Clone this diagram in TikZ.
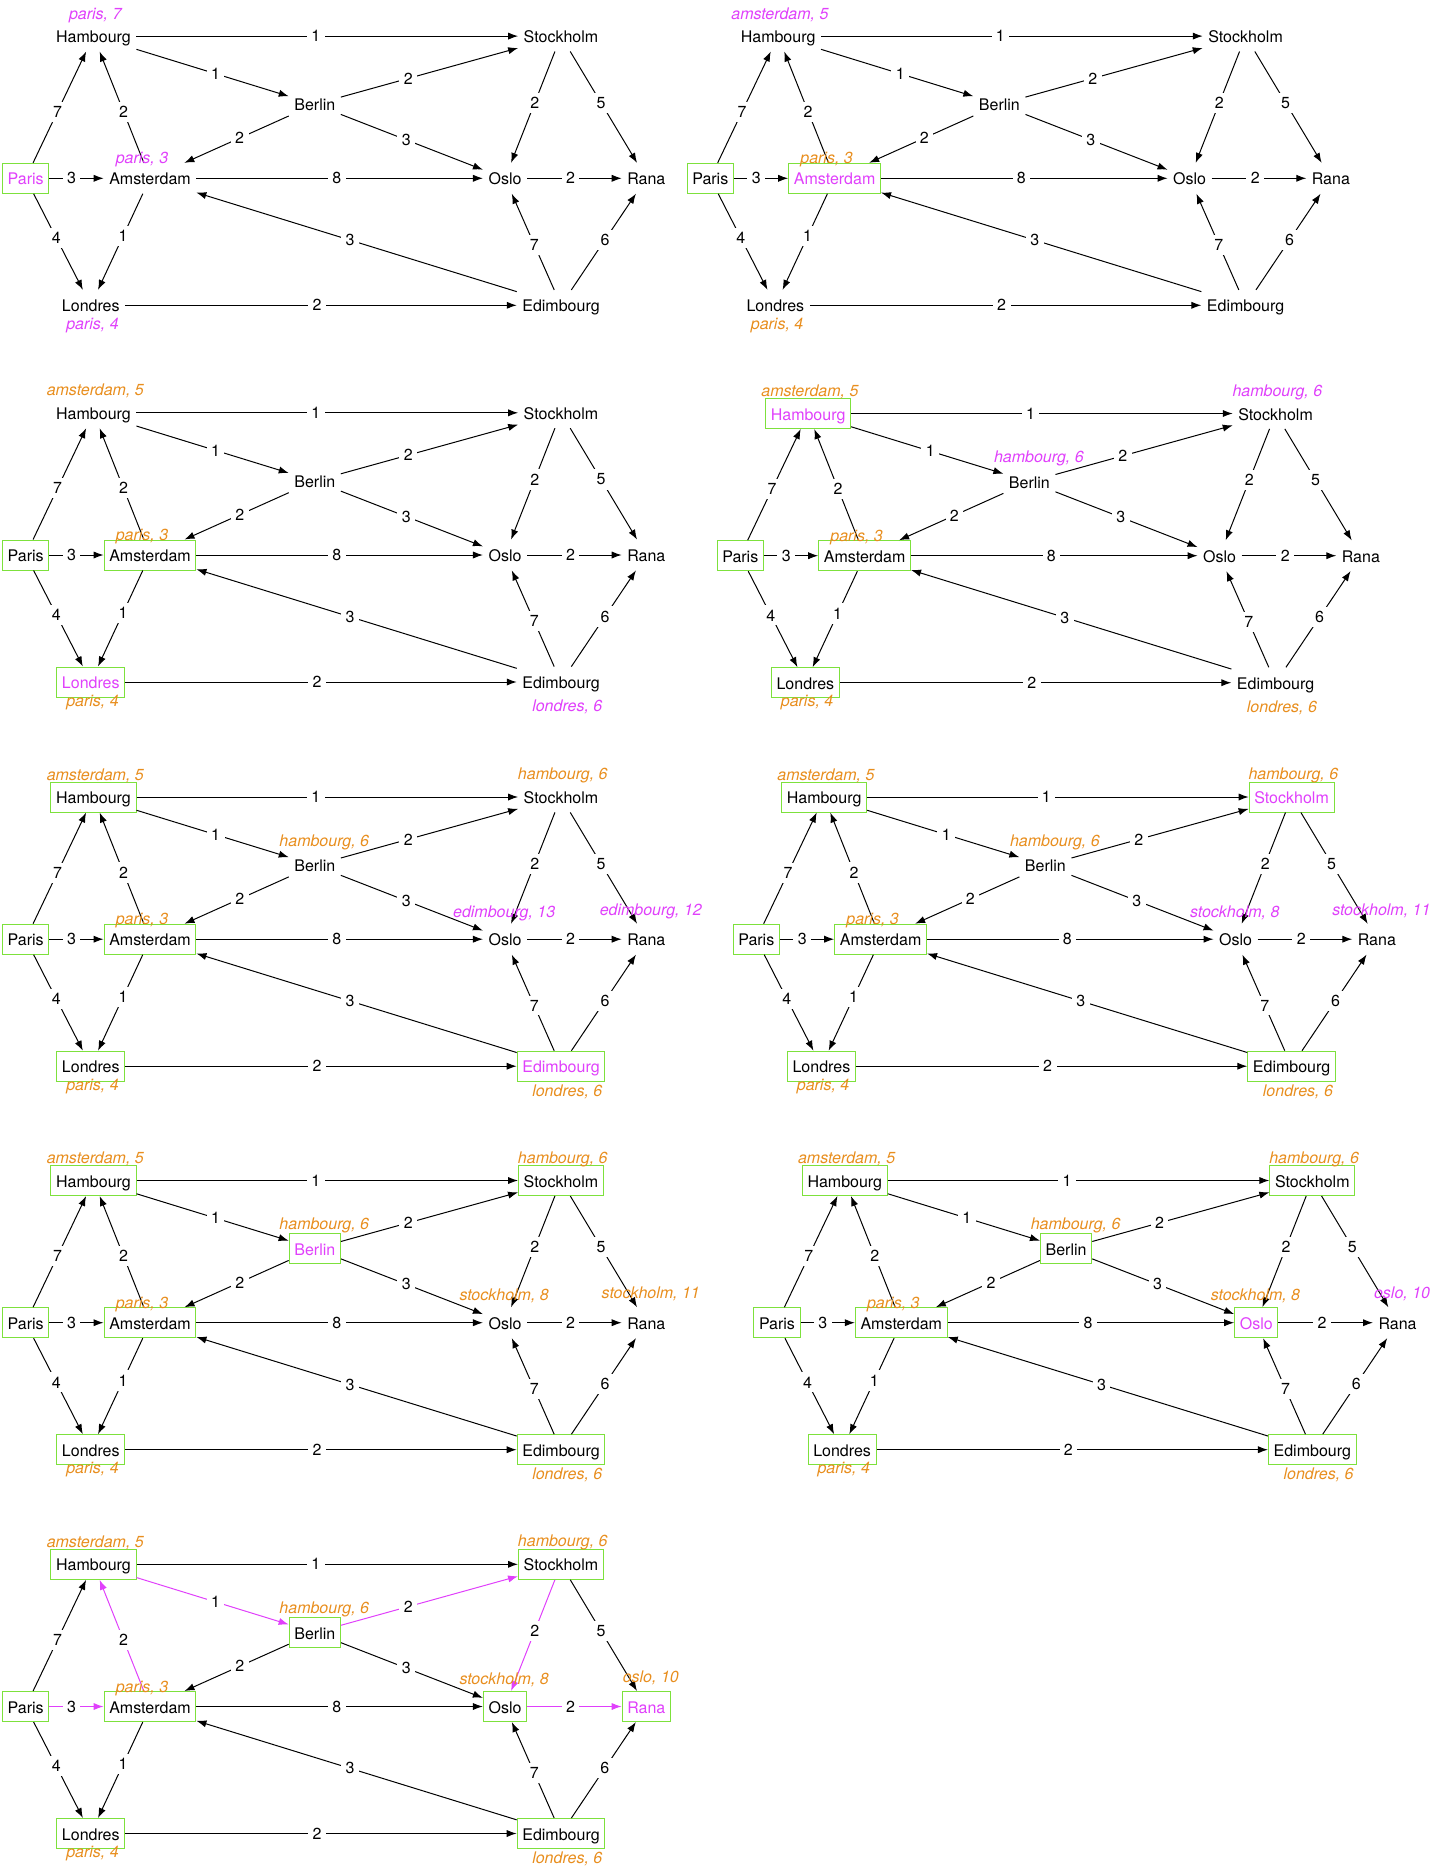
\documentclass[tikz,border=0pt]{standalone}
\usepackage{fontspec}
\setmainfont{TeX Gyre Heros}
\usetikzlibrary{arrows.meta}
\definecolor{boxgreen}{RGB}{125,225,60}
\definecolor{hotpink}{RGB}{224,64,251}
\definecolor{amber}{RGB}{232,142,30}
\newcommand{\cityfont}{\fontsize{8pt}{9.6pt}\selectfont}
\newcommand{\distfont}{\fontsize{8pt}{9.6pt}\selectfont\itshape}
\tikzset{
    city/.style={minimum height=15pt, inner xsep=2.6pt, inner ysep=0pt, text height=6.6pt, text depth=0pt, font=\cityfont},
    seen/.style={draw=boxgreen, line width=0.5pt},
    now/.style={text=hotpink},
    road/.style={-{Latex[length=5pt, width=3.6pt]}, line width=0.5pt},
    best/.style={draw=hotpink},
    wt/.style={fill=white, inner sep=2.2pt, font=\cityfont},
    old/.style={inner sep=0pt, text height=5.8pt, text depth=1.7pt, font=\distfont, text=amber},
    new/.style={old, text=hotpink},
    c-paris/.style={}, c-ham/.style={}, c-ams/.style={}, c-lon/.style={}, c-berlin/.style={},
    c-stock/.style={}, c-oslo/.style={}, c-rana/.style={}, c-edim/.style={},
    e-pa/.style={}, e-ah/.style={}, e-hb/.style={}, e-bs/.style={}, e-so/.style={}, e-or/.style={},
    d-ham/.style={shift={(1.8,-21)}},
    d-ams/.style={shift={(-8,-18.5)}},
    d-lon/.style={shift={(1.7,20)}},
    d-berlin/.style={shift={(9.5,-23)}},
    d-stock/.style={shift={(1.8,-21.6)}},
    d-oslo/.style={shift={(-0.8,-26)}},
    d-rana/.style={shift={(4.5,-28)}},
    d-edim/.style={shift={(6.3,25.8)}}
}
% one step of the search: #1 options, #2 prefix of the names, #3 place of Paris
\newcommand{\citygraph}[3][]{%
    \begin{scope}[shift={#3}, #1]
        \node[city, c-paris] (#2p) at (0, 0) {Paris};
        \node[city, c-ham] (#2h) at (67.8, -142.2) {Hambourg};
        \node[city, c-ams] (#2a) at (124.3, 0) {Amsterdam};
        \node[city, c-lon] (#2l) at (65.1, 127) {Londres};
        \node[city, c-berlin] (#2b) at (289.1, -74) {Berlin};
        \node[city, c-stock] (#2s) at (535.3, -142.2) {Stockholm};
        \node[city, c-oslo] (#2o) at (479.3, 0) {Oslo};
        \node[city, c-rana] (#2r) at (620.6, 0) {Rana};
        \node[city, c-edim] (#2e) at (535.3, 127) {Edimbourg};
        \draw[road, e-pa] (#2p) -- (#2a) node[wt, pos=0.41] {3};
        \draw[road] (#2p) -- (#2h) node[wt, pos=0.46] {7};
        \draw[road, e-ah] (#2a) -- (#2h) node[wt, pos=0.46] {2};
        \draw[road] (#2p) -- (#2l) node[wt, pos=0.46] {4};
        \draw[road] (#2a) -- (#2l) node[wt, pos=0.44] {1};
        \draw[road] (#2h) -- (#2s) node[wt, pos=0.47] {1};
        \draw[road, e-hb] (#2h) -- (#2b) node[wt, pos=0.52] {1};
        \draw[road, e-bs] (#2b) -- (#2s) node[wt, pos=0.38] {2};
        \draw[road] (#2b) -- (#2a) node[wt, pos=0.47] {2};
        \draw[road] (#2b) -- (#2o) node[wt, pos=0.46] {3};
        \draw[road] (#2a) -- (#2o) node[wt, pos=0.49] {8};
        \draw[road, e-so] (#2s) -- (#2o) node[wt, pos=0.46] {2};
        \draw[road] (#2s) -- (#2r) node[wt, pos=0.46] {5};
        \draw[road, e-or] (#2o) -- (#2r) node[wt, pos=0.46] {2};
        \draw[road] (#2e) -- (#2o) node[wt, pos=0.47] {7};
        \draw[road] (#2e) -- (#2r) node[wt, pos=0.52] {6};
        \draw[road] (#2e) -- (#2a) node[wt, pos=0.52] {3};
        \draw[road] (#2l) -- (#2e) node[wt, pos=0.49] {2};
    \end{scope}%
}

\begin{document}
\begin{tikzpicture}[x=0.5pt, y=-0.5pt]
    \useasboundingbox (0, 0) rectangle (1438, 1874);

    % step 1
    \citygraph[c-paris/.style={seen, now}]{s1}{(25.7, 178.3)}
    \node[new] (s1hd) at ([d-ham]s1h.center) {paris, 7};
    \node[new] (s1ad) at ([d-ams]s1a.center) {paris, 3};
    \node[new] (s1ld) at ([d-lon]s1l.center) {paris, 4};

    % step 2
    \citygraph[c-paris/.style=seen, c-ams/.style={seen, now}]{s2}{(710.3, 178.3)}
    \node[new] (s2hd) at ([d-ham]s2h.center) {amsterdam, 5};
    \node[old] (s2ad) at ([d-ams]s2a.center) {paris, 3};
    \node[old] (s2ld) at ([d-lon]s2l.center) {paris, 4};

    % step 3
    \citygraph[c-paris/.style=seen, c-ams/.style=seen, c-lon/.style={seen, now}]{s3}{(25.7, 555)}
    \node[old] (s3hd) at ([d-ham]s3h.center) {amsterdam, 5};
    \node[old] (s3ad) at ([d-ams]s3a.center) {paris, 3};
    \node[old] (s3ld) at ([d-lon]s3l.center) {paris, 4};
    \node[new] (s3ed) at ([d-edim]s3e.center) {londres, 6};

    % step 4
    \citygraph[c-paris/.style=seen, c-ams/.style=seen, c-lon/.style=seen, c-ham/.style={seen, now}]{s4}{(740.3, 555.7)}
    \node[old] (s4hd) at ([d-ham]s4h.center) {amsterdam, 5};
    \node[new] (s4sd) at ([d-stock]s4s.center) {hambourg, 6};
    \node[new] (s4bd) at ([d-berlin]s4b.center) {hambourg, 6};
    \node[old] (s4ad) at ([d-ams]s4a.center) {paris, 3};
    \node[old] (s4ld) at ([d-lon]s4l.center) {paris, 4};
    \node[old] (s4ed) at ([d-edim]s4e.center) {londres, 6};

    % step 5
    \citygraph[c-paris/.style=seen, c-ams/.style=seen, c-lon/.style=seen, c-ham/.style=seen,
        c-edim/.style={seen, now}]{s5}{(25.7, 939.2)}
    \node[old] (s5hd) at ([d-ham]s5h.center) {amsterdam, 5};
    \node[old] (s5sd) at ([d-stock]s5s.center) {hambourg, 6};
    \node[old] (s5bd) at ([d-berlin]s5b.center) {hambourg, 6};
    \node[new] (s5od) at ([d-oslo]s5o.center) {edimbourg, 13};
    \node[new] (s5rd) at ([d-rana]s5r.center) {edimbourg, 12};
    \node[old] (s5ad) at ([d-ams]s5a.center) {paris, 3};
    \node[old] (s5ld) at ([d-lon]s5l.center) {paris, 4};
    \node[old] (s5ed) at ([d-edim]s5e.center) {londres, 6};

    % step 6
    \citygraph[c-paris/.style=seen, c-ams/.style=seen, c-lon/.style=seen, c-ham/.style=seen,
        c-edim/.style=seen, c-stock/.style={seen, now}]{s6}{(756.3, 939.2)}
    \node[old] (s6hd) at ([d-ham]s6h.center) {amsterdam, 5};
    \node[old] (s6sd) at ([d-stock]s6s.center) {hambourg, 6};
    \node[old] (s6bd) at ([d-berlin]s6b.center) {hambourg, 6};
    \node[new] (s6od) at ([d-oslo]s6o.center) {stockholm, 8};
    \node[new] (s6rd) at ([d-rana]s6r.center) {stockholm, 11};
    \node[old] (s6ad) at ([d-ams]s6a.center) {paris, 3};
    \node[old] (s6ld) at ([d-lon]s6l.center) {paris, 4};
    \node[old] (s6ed) at ([d-edim]s6e.center) {londres, 6};

    % step 7
    \citygraph[c-paris/.style=seen, c-ams/.style=seen, c-lon/.style=seen, c-ham/.style=seen,
        c-edim/.style=seen, c-stock/.style=seen, c-berlin/.style={seen, now}]{s7}{(25.7, 1322.7)}
    \node[old] (s7hd) at ([d-ham]s7h.center) {amsterdam, 5};
    \node[old] (s7sd) at ([d-stock]s7s.center) {hambourg, 6};
    \node[old] (s7bd) at ([d-berlin]s7b.center) {hambourg, 6};
    \node[old] (s7od) at ([d-oslo]s7o.center) {stockholm, 8};
    \node[old] (s7rd) at ([d-rana]s7r.center) {stockholm, 11};
    \node[old] (s7ad) at ([d-ams]s7a.center) {paris, 3};
    \node[old] (s7ld) at ([d-lon]s7l.center) {paris, 4};
    \node[old] (s7ed) at ([d-edim]s7e.center) {londres, 6};

    % step 8
    \citygraph[c-paris/.style=seen, c-ams/.style=seen, c-lon/.style=seen, c-ham/.style=seen,
        c-edim/.style=seen, c-stock/.style=seen, c-berlin/.style=seen, c-oslo/.style={seen, now}]{s8}{(777, 1322.7)}
    \node[old] (s8hd) at ([d-ham]s8h.center) {amsterdam, 5};
    \node[old] (s8sd) at ([d-stock]s8s.center) {hambourg, 6};
    \node[old] (s8bd) at ([d-berlin]s8b.center) {hambourg, 6};
    \node[old] (s8od) at ([d-oslo]s8o.center) {stockholm, 8};
    \node[new] (s8rd) at ([d-rana]s8r.center) {oslo, 10};
    \node[old] (s8ad) at ([d-ams]s8a.center) {paris, 3};
    \node[old] (s8ld) at ([d-lon]s8l.center) {paris, 4};
    \node[old] (s8ed) at ([d-edim]s8e.center) {londres, 6};

    % step 9, with the shortest path
    \citygraph[c-paris/.style=seen, c-ams/.style=seen, c-lon/.style=seen, c-ham/.style=seen,
        c-edim/.style=seen, c-stock/.style=seen, c-berlin/.style=seen, c-oslo/.style=seen,
        c-rana/.style={seen, now}, e-pa/.style=best, e-ah/.style=best, e-hb/.style=best,
        e-bs/.style=best, e-so/.style=best, e-or/.style=best]{s9}{(25.7, 1706.5)}
    \node[old] (s9hd) at ([d-ham]s9h.center) {amsterdam, 5};
    \node[old] (s9sd) at ([d-stock]s9s.center) {hambourg, 6};
    \node[old] (s9bd) at ([d-berlin]s9b.center) {hambourg, 6};
    \node[old] (s9od) at ([d-oslo]s9o.center) {stockholm, 8};
    \node[old] (s9rd) at ([d-rana]s9r.center) {oslo, 10};
    \node[old] (s9ad) at ([d-ams]s9a.center) {paris, 3};
    \node[old] (s9ld) at ([d-lon]s9l.center) {paris, 4};
    \node[old] (s9ed) at ([d-edim]s9e.center) {londres, 6};
\end{tikzpicture}
\end{document}
